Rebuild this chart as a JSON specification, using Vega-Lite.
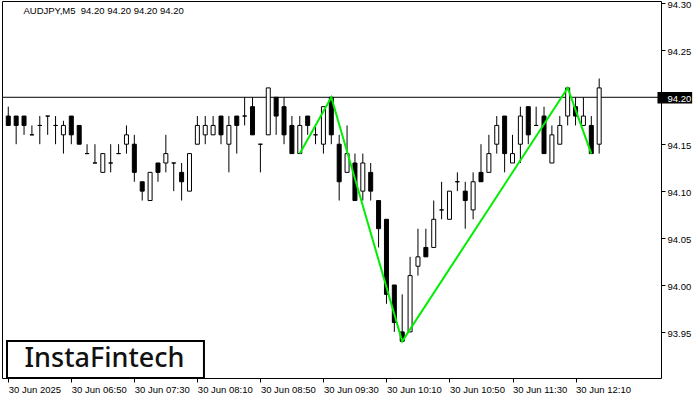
{
  "$schema": "https://vega.github.io/schema/vega-lite/v6.json",
  "width": 659,
  "height": 377,
  "autosize": "none",
  "padding": {"left": 2, "top": 1, "right": 39, "bottom": 22},
  "background": "white",
  "config": {
    "view": {"stroke": "black", "strokeWidth": 1},
    "axis": {"domain": false, "grid": false, "tickColor": "black", "labelColor": "black", "labelFont": "Liberation Sans"}
  },
  "data": {"values": [{}]},
  "datasets": {
    "candles": [
      {"t":"2025-06-30T06:10:00Z","open":94.18,"high":94.19,"low":94.17,"close":94.17},
      {"t":"2025-06-30T06:15:00Z","open":94.18,"high":94.18,"low":94.15,"close":94.17},
      {"t":"2025-06-30T06:20:00Z","open":94.18,"high":94.18,"low":94.16,"close":94.17},
      {"t":"2025-06-30T06:25:00Z","open":94.16,"high":94.17,"low":94.16,"close":94.16},
      {"t":"2025-06-30T06:30:00Z","open":94.17,"high":94.18,"low":94.15,"close":94.17},
      {"t":"2025-06-30T06:35:00Z","open":94.18,"high":94.18,"low":94.16,"close":94.18},
      {"t":"2025-06-30T06:40:00Z","open":94.17,"high":94.18,"low":94.15,"close":94.17},
      {"t":"2025-06-30T06:45:00Z","open":94.16,"high":94.175,"low":94.14,"close":94.17},
      {"t":"2025-06-30T06:50:00Z","open":94.18,"high":94.18,"low":94.15,"close":94.16},
      {"t":"2025-06-30T06:55:00Z","open":94.17,"high":94.17,"low":94.15,"close":94.15},
      {"t":"2025-06-30T07:00:00Z","open":94.14,"high":94.15,"low":94.14,"close":94.14},
      {"t":"2025-06-30T07:05:00Z","open":94.13,"high":94.15,"low":94.13,"close":94.13},
      {"t":"2025-06-30T07:10:00Z","open":94.12,"high":94.14,"low":94.12,"close":94.14},
      {"t":"2025-06-30T07:15:00Z","open":94.13,"high":94.15,"low":94.12,"close":94.13},
      {"t":"2025-06-30T07:20:00Z","open":94.14,"high":94.15,"low":94.14,"close":94.14},
      {"t":"2025-06-30T07:25:00Z","open":94.15,"high":94.17,"low":94.14,"close":94.16},
      {"t":"2025-06-30T07:30:00Z","open":94.15,"high":94.16,"low":94.11,"close":94.12},
      {"t":"2025-06-30T07:35:00Z","open":94.11,"high":94.11,"low":94.09,"close":94.10},
      {"t":"2025-06-30T07:40:00Z","open":94.09,"high":94.12,"low":94.09,"close":94.12},
      {"t":"2025-06-30T07:45:00Z","open":94.13,"high":94.13,"low":94.11,"close":94.12},
      {"t":"2025-06-30T07:50:00Z","open":94.13,"high":94.16,"low":94.12,"close":94.14},
      {"t":"2025-06-30T07:55:00Z","open":94.13,"high":94.13,"low":94.10,"close":94.13},
      {"t":"2025-06-30T08:00:00Z","open":94.12,"high":94.13,"low":94.09,"close":94.11},
      {"t":"2025-06-30T08:05:00Z","open":94.10,"high":94.14,"low":94.10,"close":94.14},
      {"t":"2025-06-30T08:10:00Z","open":94.15,"high":94.18,"low":94.15,"close":94.17},
      {"t":"2025-06-30T08:15:00Z","open":94.16,"high":94.18,"low":94.15,"close":94.17},
      {"t":"2025-06-30T08:20:00Z","open":94.16,"high":94.18,"low":94.16,"close":94.17},
      {"t":"2025-06-30T08:25:00Z","open":94.18,"high":94.18,"low":94.15,"close":94.16},
      {"t":"2025-06-30T08:30:00Z","open":94.15,"high":94.18,"low":94.12,"close":94.17},
      {"t":"2025-06-30T08:35:00Z","open":94.18,"high":94.18,"low":94.14,"close":94.17},
      {"t":"2025-06-30T08:40:00Z","open":94.18,"high":94.20,"low":94.17,"close":94.18},
      {"t":"2025-06-30T08:45:00Z","open":94.19,"high":94.20,"low":94.16,"close":94.16},
      {"t":"2025-06-30T08:50:00Z","open":94.15,"high":94.15,"low":94.12,"close":94.15},
      {"t":"2025-06-30T08:55:00Z","open":94.16,"high":94.21,"low":94.16,"close":94.21},
      {"t":"2025-06-30T09:00:00Z","open":94.20,"high":94.20,"low":94.16,"close":94.18},
      {"t":"2025-06-30T09:05:00Z","open":94.19,"high":94.20,"low":94.15,"close":94.16},
      {"t":"2025-06-30T09:10:00Z","open":94.17,"high":94.18,"low":94.14,"close":94.14},
      {"t":"2025-06-30T09:15:00Z","open":94.14,"high":94.18,"low":94.14,"close":94.17},
      {"t":"2025-06-30T09:20:00Z","open":94.18,"high":94.18,"low":94.16,"close":94.17},
      {"t":"2025-06-30T09:25:00Z","open":94.16,"high":94.17,"low":94.15,"close":94.16},
      {"t":"2025-06-30T09:30:00Z","open":94.15,"high":94.19,"low":94.14,"close":94.19},
      {"t":"2025-06-30T09:35:00Z","open":94.20,"high":94.20,"low":94.15,"close":94.16},
      {"t":"2025-06-30T09:40:00Z","open":94.15,"high":94.16,"low":94.09,"close":94.11},
      {"t":"2025-06-30T09:45:00Z","open":94.12,"high":94.17,"low":94.12,"close":94.14},
      {"t":"2025-06-30T09:50:00Z","open":94.13,"high":94.14,"low":94.09,"close":94.09},
      {"t":"2025-06-30T09:55:00Z","open":94.10,"high":94.14,"low":94.09,"close":94.13},
      {"t":"2025-06-30T10:00:00Z","open":94.12,"high":94.13,"low":94.09,"close":94.10},
      {"t":"2025-06-30T10:05:00Z","open":94.09,"high":94.09,"low":94.04,"close":94.06},
      {"t":"2025-06-30T10:10:00Z","open":94.07,"high":94.07,"low":93.98,"close":93.99},
      {"t":"2025-06-30T10:15:00Z","open":94.00,"high":94.00,"low":93.95,"close":93.96},
      {"t":"2025-06-30T10:20:00Z","open":93.95,"high":93.99,"low":93.94,"close":93.94},
      {"t":"2025-06-30T10:25:00Z","open":93.95,"high":94.03,"low":93.95,"close":94.01},
      {"t":"2025-06-30T10:30:00Z","open":94.02,"high":94.06,"low":94.01,"close":94.03},
      {"t":"2025-06-30T10:35:00Z","open":94.04,"high":94.06,"low":94.03,"close":94.03},
      {"t":"2025-06-30T10:40:00Z","open":94.04,"high":94.09,"low":94.04,"close":94.07},
      {"t":"2025-06-30T10:45:00Z","open":94.08,"high":94.11,"low":94.07,"close":94.08},
      {"t":"2025-06-30T10:50:00Z","open":94.07,"high":94.10,"low":94.07,"close":94.10},
      {"t":"2025-06-30T10:55:00Z","open":94.11,"high":94.12,"low":94.10,"close":94.11},
      {"t":"2025-06-30T11:00:00Z","open":94.10,"high":94.11,"low":94.06,"close":94.09},
      {"t":"2025-06-30T11:05:00Z","open":94.08,"high":94.12,"low":94.07,"close":94.11},
      {"t":"2025-06-30T11:10:00Z","open":94.12,"high":94.15,"low":94.11,"close":94.11},
      {"t":"2025-06-30T11:15:00Z","open":94.12,"high":94.16,"low":94.12,"close":94.14},
      {"t":"2025-06-30T11:20:00Z","open":94.15,"high":94.18,"low":94.14,"close":94.17},
      {"t":"2025-06-30T11:25:00Z","open":94.18,"high":94.18,"low":94.12,"close":94.14},
      {"t":"2025-06-30T11:30:00Z","open":94.13,"high":94.16,"low":94.13,"close":94.14},
      {"t":"2025-06-30T11:35:00Z","open":94.15,"high":94.19,"low":94.13,"close":94.18},
      {"t":"2025-06-30T11:40:00Z","open":94.19,"high":94.19,"low":94.15,"close":94.16},
      {"t":"2025-06-30T11:45:00Z","open":94.17,"high":94.19,"low":94.17,"close":94.17},
      {"t":"2025-06-30T11:50:00Z","open":94.18,"high":94.19,"low":94.14,"close":94.14},
      {"t":"2025-06-30T11:55:00Z","open":94.13,"high":94.17,"low":94.13,"close":94.16},
      {"t":"2025-06-30T12:00:00Z","open":94.15,"high":94.18,"low":94.15,"close":94.17},
      {"t":"2025-06-30T12:05:00Z","open":94.18,"high":94.21,"low":94.17,"close":94.21},
      {"t":"2025-06-30T12:10:00Z","open":94.19,"high":94.20,"low":94.17,"close":94.18},
      {"t":"2025-06-30T12:15:00Z","open":94.17,"high":94.20,"low":94.17,"close":94.18},
      {"t":"2025-06-30T12:20:00Z","open":94.17,"high":94.18,"low":94.14,"close":94.14},
      {"t":"2025-06-30T12:25:00Z","open":94.15,"high":94.22,"low":94.14,"close":94.21}
    ],
    "pattern": [
      {"t":"2025-06-30T09:15:00Z","price":94.14},
      {"t":"2025-06-30T09:35:00Z","price":94.20},
      {"t":"2025-06-30T10:20:00Z","price":93.94},
      {"t":"2025-06-30T12:05:00Z","price":94.21},
      {"t":"2025-06-30T12:20:00Z","price":94.14}
    ]
  },
  "layer": [
    {
      "mark": {"type": "rule", "color": "black", "strokeWidth": 1},
      "encoding": {
        "y": {"datum": 94.20, "type": "quantitative", "title": null}
      }
    },
    {
      "data": {"name": "candles"},
      "mark": {"type": "rule", "color": "black", "strokeWidth": 1, "clip": true},
      "encoding": {
        "x": {
          "field": "t", "type": "temporal", "title": null,
          "scale": {"type": "utc", "domain": [
            {"year": 2025, "month": 6, "date": 30, "hours": 6, "minutes": 9, "seconds": 11, "milliseconds": 250, "utc": true},
            {"year": 2025, "month": 6, "date": 30, "hours": 13, "minutes": 1, "seconds": 3, "milliseconds": 750, "utc": true}
          ]},
          "axis": {
            "orient": "bottom",
            "values": [
              {"year": 2025, "month": 6, "date": 30, "hours": 6, "minutes": 10, "utc": true},
              {"year": 2025, "month": 6, "date": 30, "hours": 6, "minutes": 50, "utc": true},
              {"year": 2025, "month": 6, "date": 30, "hours": 7, "minutes": 30, "utc": true},
              {"year": 2025, "month": 6, "date": 30, "hours": 8, "minutes": 10, "utc": true},
              {"year": 2025, "month": 6, "date": 30, "hours": 8, "minutes": 50, "utc": true},
              {"year": 2025, "month": 6, "date": 30, "hours": 9, "minutes": 30, "utc": true},
              {"year": 2025, "month": 6, "date": 30, "hours": 10, "minutes": 10, "utc": true},
              {"year": 2025, "month": 6, "date": 30, "hours": 10, "minutes": 50, "utc": true},
              {"year": 2025, "month": 6, "date": 30, "hours": 11, "minutes": 30, "utc": true},
              {"year": 2025, "month": 6, "date": 30, "hours": 12, "minutes": 10, "utc": true}
            ],
            "labelExpr": "utcFormat(datum.value, '%H:%M') == '06:10' ? '30 Jun 2025' : utcFormat(datum.value, '%d %b %H:%M')",
            "labelAlign": "left",
            "labelBaseline": "top",
            "labelFontSize": 9.5,
            "labelPadding": 2,
            "labelOffset": 0,
            "tickSize": 4,
            "labelFlush": false,
            "labelOverlap": false,
            "title": null
          }
        },
        "y": {
          "field": "low", "type": "quantitative", "title": null,
          "scale": {"domain": [93.9009, 94.3026], "nice": false, "zero": false},
          "axis": {
            "orient": "right",
            "values": [93.95, 94.0, 94.05, 94.1, 94.15, 94.2, 94.25, 94.3],
            "format": ".2f",
            "labelFontSize": 9.5,
            "labelPadding": 2,
            "labelOffset": 1.5,
            "tickSize": 4,
            "labelBaseline": "middle",
            "labelBound": false,
            "labelColor": {"expr": "abs(datum.value - 94.2) < 0.001 ? 'white' : 'black'"},
            "zindex": 2,
            "title": null
          }
        },
        "y2": {"field": "high"}
      }
    },
    {
      "data": {"name": "candles"},
      "mark": {"type": "bar", "size": 4, "stroke": "black", "strokeWidth": 1, "clip": true},
      "encoding": {
        "x": {"field": "t", "type": "temporal", "title": null},
        "y": {"field": "open", "type": "quantitative", "title": null},
        "y2": {"field": "close"},
        "fill": {"condition": {"test": "datum.close >= datum.open", "value": "white"}, "value": "black"}
      }
    },
    {
      "data": {"name": "pattern"},
      "mark": {"type": "line", "color": "#00ee00", "strokeWidth": 2},
      "encoding": {
        "x": {"field": "t", "type": "temporal", "title": null},
        "y": {"field": "price", "type": "quantitative", "title": null}
      }
    },
    {
      "mark": {"type": "rect", "fill": "black"},
      "encoding": {
        "x": {"datum": {"year": 2025, "month": 6, "date": 30, "hours": 13, "minutes": 2, "seconds": 0, "utc": true}, "type": "temporal", "title": null},
        "x2": {"datum": {"year": 2025, "month": 6, "date": 30, "hours": 13, "minutes": 24, "seconds": 0, "utc": true}},
        "y": {"datum": 94.2057, "type": "quantitative", "title": null},
        "y2": {"datum": 94.1935}
      }
    },
    {
      "mark": {"type": "text", "align": "left", "baseline": "middle", "font": "Liberation Sans", "fontSize": 9.5, "color": "black"},
      "encoding": {
        "x": {"datum": {"year": 2025, "month": 6, "date": 30, "hours": 6, "minutes": 19, "seconds": 37, "utc": true}, "type": "temporal", "title": null},
        "y": {"datum": 94.2919, "type": "quantitative", "title": null},
        "text": {"value": "AUDJPY,M5\u00a0 94.20 94.20 94.20 94.20"}
      }
    },
    {
      "mark": {"type": "rect", "fill": "white", "stroke": "black", "strokeWidth": 2},
      "encoding": {
        "x": {"datum": {"year": 2025, "month": 6, "date": 30, "hours": 6, "minutes": 9, "seconds": 11, "utc": true}, "type": "temporal", "title": null},
        "x2": {"datum": {"year": 2025, "month": 6, "date": 30, "hours": 8, "minutes": 14, "seconds": 11, "utc": true}},
        "y": {"datum": 93.9009, "type": "quantitative", "title": null},
        "y2": {"datum": 93.9403}
      }
    },
    {
      "mark": {"type": "text", "align": "center", "baseline": "middle", "font": "Noto Sans", "fontSize": 27, "fontWeight": 500, "color": "#111111"},
      "encoding": {
        "x": {"datum": {"year": 2025, "month": 6, "date": 30, "hours": 7, "minutes": 11, "seconds": 4, "utc": true}, "type": "temporal", "title": null},
        "y": {"datum": 93.9211, "type": "quantitative", "title": null},
        "text": {"value": "InstaFintech"}
      }
    }
  ]
}
